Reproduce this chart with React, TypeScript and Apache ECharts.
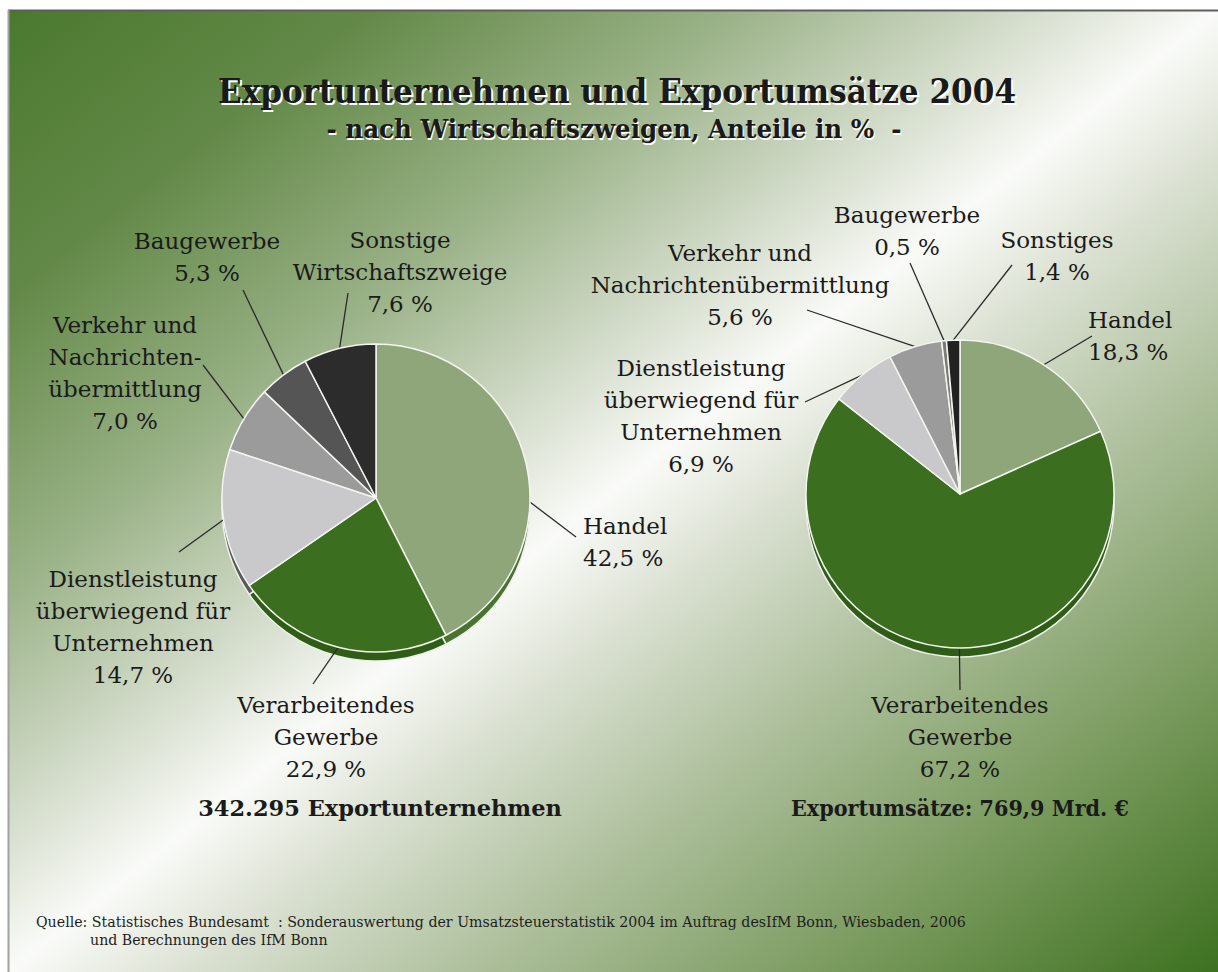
import React, { useEffect, useRef } from 'react';
import * as echarts from 'echarts';

// ---------- data ----------
const categories = [
  'Handel',
  'Verarbeitendes Gewerbe',
  'Dienstleistung überwiegend für Unternehmen',
  'Verkehr und Nachrichtenübermittlung',
  'Baugewerbe',
  'Sonstige',
];
const leftValues = [42.5, 22.9, 14.7, 7.0, 5.3, 7.6];
const rightValues = [18.3, 67.2, 6.9, 5.6, 0.5, 1.4];
const leftLabels = [
  'Handel',
  'Verarbeitendes\nGewerbe',
  'Dienstleistung\nüberwiegend für\nUnternehmen',
  'Verkehr und\nNachrichten-\nübermittlung',
  'Baugewerbe',
  'Sonstige\nWirtschaftszweige',
];
const rightLabels = [
  'Handel',
  'Verarbeitendes\nGewerbe',
  'Dienstleistung\nüberwiegend für\nUnternehmen',
  'Verkehr und\nNachrichtenübermittlung',
  'Baugewerbe',
  'Sonstiges',
];
const titleText = 'Exportunternehmen und Exportumsätze 2004';
const subtitleText = '- nach Wirtschaftszweigen, Anteile in %  -';
const leftTotalText = '342.295 Exportunternehmen';
const rightTotalText = 'Exportumsätze: 769,9 Mrd. €';
const sourceLine1 =
  'Quelle: Statistisches Bundesamt  : Sonderauswertung der Umsatzsteuerstatistik 2004 im Auftrag desIfM Bonn, Wiesbaden, 2006';
const sourceLine2 = 'und Berechnungen des IfM Bonn';

// ---------- styles / layout ----------
const W = 1218;
const H = 972;
const FONT = '"DejaVu Serif", "Liberation Serif", serif';
const faceColorsLeft = ['#8fa67b', '#3c6e1f', '#c9c9cc', '#9b9b9b', '#555555', '#2c2c2c'];
const faceColorsRight = ['#8fa67b', '#3c6e1f', '#c9c9cc', '#9b9b9b', '#7a7a7a', '#222222'];
const sideColors = ['#4a7230', '#2f5c17', '#5a5a5a', '#555555', '#3a3a3a', '#1a1a1a'];

type LabelPos = { x: number; y: number; align: string; ex: number; ey: number; shift?: number };
const leftLayout: LabelPos[] = [
  { x: 583, y: 542, align: 'left', ex: 576, ey: 537, shift: 15 },
  { x: 326, y: 737, align: 'center', ex: 313, ey: 684 },
  { x: 133, y: 627, align: 'center', ex: 179, ey: 552 },
  { x: 125, y: 373, align: 'center', ex: 203, ey: 365 },
  { x: 207, y: 257, align: 'center', ex: 243, ey: 290 },
  { x: 400, y: 272, align: 'center', ex: 348, ey: 293 },
];
const rightLayout: LabelPos[] = [
  { x: 1088, y: 336, align: 'left', ex: 1092, ey: 336 },
  { x: 960, y: 737, align: 'center', ex: 960, ey: 690, shift: -6.8 },
  { x: 701, y: 416, align: 'center', ex: 805, ey: 402 },
  { x: 740, y: 285, align: 'center', ex: 807, ey: 310 },
  { x: 907, y: 231, align: 'center', ex: 910, ey: 263 },
  { x: 1057, y: 256, align: 'center', ex: 1012, ey: 265 },
];

function measure(text: string, font: string): number {
  const ctx = document.createElement('canvas').getContext('2d');
  if (!ctx) return 1;
  ctx.font = font;
  return ctx.measureText(text).width || 1;
}

function fmtPct(v: number): string {
  return v.toFixed(1).replace('.', ',') + ' %';
}

function midAngles(values: number[]): number[] {
  const total = values.reduce((a, b) => a + b, 0);
  let acc = 0;
  return values.map((v) => {
    const a = ((acc + v / 2) / total) * 360;
    acc += v;
    return a;
  });
}

function makePies(
  name: string,
  values: number[],
  labels: string[],
  colors: string[],
  center: [number, number],
  radius: number,
  layout: LabelPos[]
): any[] {
  const mids = midAngles(values);
  const side = {
    type: 'pie',
    silent: true,
    z: 1,
    center: [center[0], center[1] + 9],
    radius,
    startAngle: 90,
    clockwise: true,
    avoidLabelOverlap: false,
    label: { show: false },
    labelLine: { show: false },
    emphasis: { disabled: true },
    itemStyle: { borderColor: '#eef1ea', borderWidth: 1.5 },
    data: values.map((v, i) => ({ name: categories[i], value: v, itemStyle: { color: sideColors[i] } })),
  };
  const face = {
    type: 'pie',
    name,
    z: 2,
    center,
    radius,
    startAngle: 90,
    clockwise: true,
    avoidLabelOverlap: false,
    emphasis: { disabled: true },
    itemStyle: { borderColor: '#f3f5ef', borderWidth: 1.5 },
    label: {
      show: true,
      position: 'outside',
      alignTo: 'none',
      overflow: 'none',
      formatter: (p: any) => labels[p.dataIndex] + '\n' + fmtPct(p.value),
      color: '#1a1a1a',
      fontFamily: FONT,
      fontSize: 23,
      lineHeight: 32,
    },
    labelLine: {
      show: true,
      length: 10,
      length2: 10,
      lineStyle: { color: '#2a2a2a', width: 1.3 },
    },
    labelLayout: (p: any) => {
      const L = layout[p.dataIndex];
      const a = ((mids[p.dataIndex] + (L.shift || 0)) * Math.PI) / 180;
      const sx = center[0] + radius * Math.sin(a);
      const sy = center[1] - radius * Math.cos(a);
      return {
        x: L.x,
        y: L.y,
        align: L.align,
        verticalAlign: 'middle',
        labelLinePoints: [
          [sx, sy],
          [L.ex, L.ey],
        ],
      };
    },
    data: values.map((v, i) => ({ name: categories[i], value: v, itemStyle: { color: colors[i] } })),
  };
  return [side, face];
}

function textEl(
  text: string,
  x: number,
  y: number,
  size: number,
  weight: string,
  fill: string,
  align: string,
  scaleX: number,
  z: number
): any {
  return {
    type: 'text',
    x,
    y,
    scaleX,
    z,
    silent: true,
    style: {
      text,
      fill,
      font: `${weight} ${size}px ${FONT}`,
      fontSize: size,
      fontWeight: weight,
      fontFamily: FONT,
      textAlign: align,
      align,
      textVerticalAlign: 'middle',
      verticalAlign: 'middle',
    },
  };
}

export default function App() {
  const ref = useRef<HTMLDivElement>(null);

  useEffect(() => {
    document.body.style.margin = '0';
    if (!ref.current) return;
    const chart = echarts.init(ref.current, undefined, { renderer: 'svg' });

    const fx = 8;
    const fy = 10;
    const rw = W - fx;
    const rh = H - fy;
    const k = (2 * rw * rh) / (rw * rw + rh * rh);
    const grad = new echarts.graphic.LinearGradient(
      fx,
      fy,
      fx + rh * k,
      fy + rw * k,
      [
        { offset: 0, color: '#4a792e' },
        { offset: 0.15, color: '#638948' },
        { offset: 0.3, color: '#9ab287' },
        { offset: 0.42, color: '#d3dcca' },
        { offset: 0.5, color: '#fafbf8' },
        { offset: 0.58, color: '#d8dfcf' },
        { offset: 0.7, color: '#aabd98' },
        { offset: 0.85, color: '#76985a' },
        { offset: 1, color: '#3d7120' },
      ],
      true
    );

    const tSize = 34;
    const sTitle = 798 / measure(titleText, `bold ${tSize}px ${FONT}`);
    const subSize = 26;
    const sSub = 575 / measure(subtitleText, `bold ${subSize}px ${FONT}`);
    const totSize = 23;
    const sTotL = 364 / measure(leftTotalText, `bold ${totSize}px ${FONT}`);
    const sTotR = 338 / measure(rightTotalText, `bold ${totSize}px ${FONT}`);
    const srcSize = 14;
    const sSrc = 931 / measure(sourceLine1, `normal ${srcSize}px ${FONT}`);

    const option: any = {
      animation: false,
      graphic: [
        { type: 'rect', z: -30, silent: true, shape: { x: 0, y: 0, width: W, height: H }, style: { fill: '#ffffff' } },
        { type: 'rect', z: -20, silent: true, shape: { x: fx, y: fy, width: rw, height: rh }, style: { fill: grad } },
        { type: 'line', z: -10, silent: true, shape: { x1: fx, y1: fy + 0.5, x2: W, y2: fy + 0.5 }, style: { stroke: '#5e5e5e', lineWidth: 2 } },
        { type: 'line', z: -10, silent: true, shape: { x1: fx + 0.5, y1: fy, x2: fx + 0.5, y2: H }, style: { stroke: '#a2a2a2', lineWidth: 2 } },
        textEl(titleText, 619, 93, tSize, 'bold', '#ffffff', 'center', sTitle, 49),
        textEl(titleText, 617, 91, tSize, 'bold', '#1a1a1a', 'center', sTitle, 50),
        textEl(subtitleText, 615, 131, subSize, 'bold', '#ffffff', 'center', sSub, 49),
        textEl(subtitleText, 614, 129, subSize, 'bold', '#1a1a1a', 'center', sSub, 50),
        textEl(leftTotalText, 380, 808, totSize, 'bold', '#1a1a1a', 'center', sTotL, 50),
        textEl(rightTotalText, 960, 808, totSize, 'bold', '#1a1a1a', 'center', sTotR, 50),
        textEl(sourceLine1, 36, 922, srcSize, 'normal', '#1e1e1e', 'left', sSrc, 50),
        textEl(sourceLine2, 90, 940, srcSize, 'normal', '#1e1e1e', 'left', sSrc, 50),
      ],
      series: [
        ...makePies('Exportunternehmen', leftValues, leftLabels, faceColorsLeft, [376, 498], 154, leftLayout),
        ...makePies('Exportumsätze', rightValues, rightLabels, faceColorsRight, [960, 494], 154, rightLayout),
      ],
    };

    chart.setOption(option);
    return () => {
      chart.dispose();
    };
  }, []);

  return <div ref={ref} style={{ width: W, height: H }} />;
}
